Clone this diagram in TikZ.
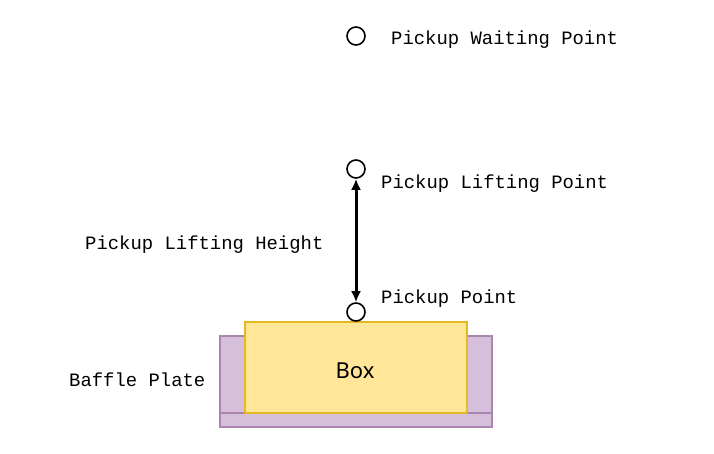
\documentclass[tikz,border=0pt]{standalone}
\usepackage{fontspec}
\setmainfont{Liberation Mono}
\newfontfamily\boxfont{Noto Sans}
\usetikzlibrary{arrows.meta}
\definecolor{boxfill}{HTML}{FFE699}
\definecolor{boxline}{HTML}{E6B820}
\definecolor{bafflefill}{HTML}{D6BFDA}
\definecolor{baffleline}{HTML}{A985B0}
\begin{document}
\begin{tikzpicture}[x=1pt,y=-1pt,
  pt/.style={circle,draw=black,line width=1.6pt,fill=white,minimum size=18pt,inner sep=0pt},
  lbl/.style={font=\fontsize{18.9}{20}\selectfont,inner sep=0pt},
  baffle/.style={draw=baffleline,fill=bafflefill,line width=1.5pt},
  boxst/.style={draw=boxline,fill=boxfill,line width=1.5pt}]
\useasboundingbox (0,0) rectangle (714,453);
% baffle plate
\path[baffle] (220,336) rectangle (245,413);
\path[baffle] (467,336) rectangle (492,413);
\path[baffle] (220,413) rectangle (492,427);
% box
\path[boxst] (245,322) rectangle (467,413);
\node[font=\boxfont\fontsize{22}{24}\selectfont,inner sep=0pt] (boxtext) at (355,371) {Box};
% points
\node[pt] (wait) at (356,36) {};
\node[pt] (lift) at (356,169) {};
\node[pt] (pick) at (356,312) {};
% arrow
\draw[line width=3pt,{Latex[length=11pt,width=10pt]}-{Latex[length=11pt,width=10pt]}] (lift) -- (pick);
% labels
\node[lbl,anchor=west] (twait) at (391,40) {Pickup Waiting Point};
\node[lbl,anchor=west] (tlift) at (381,184) {Pickup Lifting Point};
\node[lbl,anchor=west] (theight) at (85,245) {Pickup Lifting Height};
\node[lbl,anchor=west] (tpick) at (381,299) {Pickup Point};
\node[lbl,anchor=west] (tbaffle) at (69,380) {Baffle Plate};
\end{tikzpicture}
\end{document}
